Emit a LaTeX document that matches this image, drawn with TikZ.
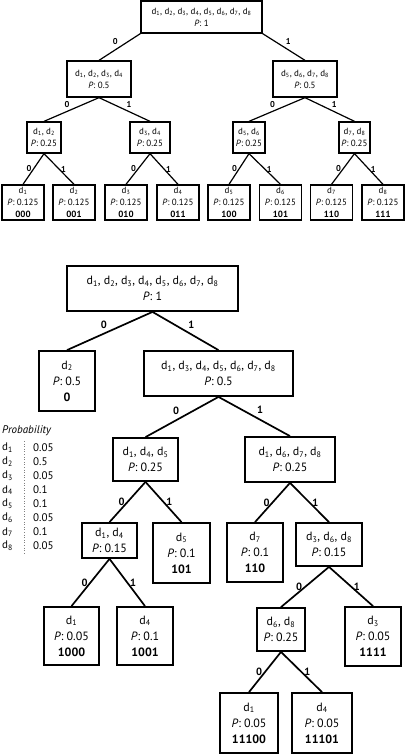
\documentclass[tikz,border=0pt]{standalone}
\usepackage{fontspec}
\setmainfont{PT Sans}
\newcommand{\dsub}[1]{d\textsubscript{#1}}
\newcommand{\prob}[1]{\textit{P}: #1}
\tikzstyle{tnode}=[draw, line width=1.3pt, align=center, inner sep=0, font=\fontsize{9}{12}\selectfont]
\tikzstyle{bnode}=[draw, line width=1.8pt, align=center, inner sep=0, font=\fontsize{12}{16}\selectfont]
\tikzstyle{tedge}=[line width=1.2pt]
\tikzstyle{bedge}=[line width=1.7pt]
\tikzstyle{tbit}=[inner sep=1.5pt, font=\fontsize{8.5}{9}\selectfont\bfseries]
\tikzstyle{bbit}=[inner sep=2pt, font=\fontsize{10.5}{11}\selectfont\bfseries]
\tikzset{sz/.style 2 args={minimum width=#1pt, minimum height=#2pt}}

\begin{document}
\begin{tikzpicture}[x=1pt, y=-1pt]
    \useasboundingbox (0,0) rectangle (404,754);
    % Fixed-length code
    \node[tnode, sz={121}{32}] (troot) at (201.5,17) {\dsub1, \dsub2, \dsub3, \dsub4, \dsub5, \dsub6, \dsub7, \dsub8\\\prob{1}};
    \node[tnode, sz={64}{36}]  (tL) at (99,79)  {\dsub1, \dsub2, \dsub3, \dsub4\\\prob{0.5}};
    \node[tnode, sz={64}{36}]  (tR) at (305,79) {\dsub5, \dsub6, \dsub7, \dsub8\\\prob{0.5}};
    \node[tnode, sz={34}{31}]  (tLL) at (44,137.5)   {\dsub1, \dsub2\\\prob{0.25}};
    \node[tnode, sz={40}{31}]  (tLR) at (150,137.5)  {\dsub3, \dsub4\\\prob{0.25}};
    \node[tnode, sz={32}{31}]  (tRL) at (249,137.5)  {\dsub5, \dsub6\\\prob{0.25}};
    \node[tnode, sz={31}{31}]  (tRR) at (354.5,137.5) {\dsub7, \dsub8\\\prob{0.25}};
    \foreach \i/\x/\c in {1/23/000, 2/74/001, 3/126/010, 4/178/011, 5/229/100, 6/280.5/101, 7/331.5/110, 8/383/111}
        \node[tnode, sz={42}{35}] (t\i) at (\x,202.5) {\dsub{\i}\\\prob{0.125}\\\textbf{\c}};
    \draw[tedge] (troot.south west) -- node[tbit, above left]  {0} (tL.north);
    \draw[tedge] (troot.south east) -- node[tbit, above right] {1} (tR.north);
    \draw[tedge] (tL.south) -- node[tbit, above left]  {0} (tLL.north);
    \draw[tedge] (tL.south) -- node[tbit, above right] {1} (tLR.north);
    \draw[tedge] (tR.south) -- node[tbit, above left]  {0} (tRL.north);
    \draw[tedge] (tR.south) -- node[tbit, above right] {1} (tRR.north);
    \draw[tedge] (tLL.south) -- node[tbit, left]  {0} (t1.north);
    \draw[tedge] (tLL.south) -- node[tbit, right] {1} (t2.north);
    \draw[tedge] (tLR.south) -- node[tbit, left]  {0} (t3.north);
    \draw[tedge] (tLR.south) -- node[tbit, right] {1} (t4.north);
    \draw[tedge] (tRL.south) -- node[tbit, left]  {0} (t5.north);
    \draw[tedge] (tRL.south) -- node[tbit, right] {1} (t6.north);
    \draw[tedge] (tRR.south) -- node[tbit, left]  {0} (t7.north);
    \draw[tedge] (tRR.south) -- node[tbit, right] {1} (t8.north);

    % Huffman code
    \node[bnode, sz={171}{45}] (broot) at (152.5,288.5) {\dsub1, \dsub2, \dsub3, \dsub4, \dsub5, \dsub6, \dsub7, \dsub8\\\prob{1}};
    \node[bnode, sz={56}{60}]  (bd2) at (67,381) {\dsub2\\\prob{0.5}\\\textbf{0}};
    \node[bnode, sz={149}{45}] (bR) at (218.5,373.5) {\dsub1, \dsub3, \dsub4, \dsub5, \dsub6, \dsub7, \dsub8\\\prob{0.5}};
    \node[bnode, sz={65}{43}]  (bRL) at (145.5,459.5) {\dsub1, \dsub4, \dsub5\\\prob{0.25}};
    \node[bnode, sz={90}{45}]  (bRR) at (290,459.5) {\dsub1, \dsub6, \dsub7, \dsub8\\\prob{0.25}};
    \node[bnode, sz={55}{35}]  (bRLL) at (109.5,540.5) {\dsub1, \dsub4\\\prob{0.15}};
    \node[bnode, sz={57}{60}]  (bd5) at (181.5,553) {\dsub5\\\prob{0.1}\\\textbf{101}};
    \node[bnode, sz={56}{59}]  (bd7) at (255,552.5) {\dsub7\\\prob{0.1}\\\textbf{110}};
    \node[bnode, sz={66}{43}]  (bRRR) at (329,544.5) {\dsub3, \dsub6, \dsub8\\\prob{0.15}};
    \node[bnode, sz={55}{58}]  (bd1a) at (71.5,636) {\dsub1\\\prob{0.05}\\\textbf{1000}};
    \node[bnode, sz={56}{58}]  (bd4a) at (145,636) {\dsub4\\\prob{0.1}\\\textbf{1001}};
    \node[bnode, sz={48}{43}]  (bRRRL) at (281,629.5) {\dsub6, \dsub8\\\prob{0.25}};
    \node[bnode, sz={56}{59}]  (bd3) at (373,636.5) {\dsub3\\\prob{0.05}\\\textbf{1111}};
    \node[bnode, sz={58}{60}]  (bd1b) at (249,723) {\dsub1\\\prob{0.05}\\\textbf{11100}};
    \node[bnode, sz={60}{60}]  (bd4b) at (322,723) {\dsub4\\\prob{0.05}\\\textbf{11101}};
    \draw[bedge] (broot.south) -- node[bbit, above left]  {0} (bd2.north);
    \draw[bedge] (broot.south) -- node[bbit, above right] {1} (bR.north);
    \draw[bedge] (bR.south) -- node[bbit, above left]  {0} (bRL.north);
    \draw[bedge] (bR.south) -- node[bbit, above right] {1} (bRR.north);
    \draw[bedge] (bRL.south) -- node[bbit, left]  {0} (bRLL.north);
    \draw[bedge] (bRL.south) -- node[bbit, right] {1} (bd5.north);
    \draw[bedge] (bRR.south) -- node[bbit, left]  {0} (bd7.north);
    \draw[bedge] (bRR.south) -- node[bbit, right] {1} (bRRR.north);
    \draw[bedge] (bRLL.south) -- node[bbit, left]  {0} (bd1a.north);
    \draw[bedge] (bRLL.south) -- node[bbit, right] {1} (bd4a.north);
    \draw[bedge] (bRRR.south) -- node[bbit, left]  {0} (bRRRL.north);
    \draw[bedge] (bRRR.south) -- node[bbit, right] {1} (bd3.north);
    \draw[bedge] (bRRRL.south) -- node[bbit, left]  {0} (bd1b.north);
    \draw[bedge] (bRRRL.south) -- node[bbit, right] {1} (bd4b.north);

    % Probability table
    \node[anchor=west, inner sep=0, font=\fontsize{11}{12}\selectfont\itshape] (ptitle) at (2,431) {Probability};
    \foreach \i/\p in {1/0.05, 2/0.5, 3/0.05, 4/0.1, 5/0.1, 6/0.05, 7/0.1, 8/0.05} {
        \node[anchor=west, inner sep=0, font=\fontsize{11}{12}\selectfont] (pd\i) at (2,434+14*\i) {\dsub{\i}};
        \node[anchor=west, inner sep=0, font=\fontsize{11}{12}\selectfont] (pv\i) at (33,434+14*\i) {\p};
    }
    \draw[line width=0.6pt, dotted, gray] (24,441) -- (24,555);
\end{tikzpicture}
\end{document}
